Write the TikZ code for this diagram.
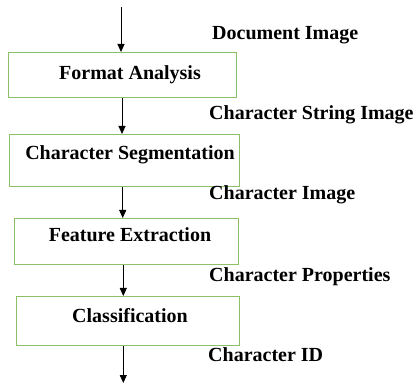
\documentclass[tikz,border=0pt]{standalone}
\usepackage{fontspec}
\setmainfont{Liberation Serif}
\usetikzlibrary{arrows.meta}
\definecolor{boxgreen}{RGB}{140,192,100}
\begin{document}
\begin{tikzpicture}[x=1pt,y=-1pt,
  stage/.style={draw=boxgreen,line width=1.3pt,inner sep=0pt,anchor=north west},
  lbl/.style={font=\fontsize{20}{24}\selectfont\bfseries,inner sep=0pt},
  flow/.style={-{Triangle[width=7pt,length=8pt]},line width=0.9pt}]
\useasboundingbox (0,0) rectangle (413,385);
% boxes
\node[stage,minimum width=228pt,minimum height=45pt] (b1) at (8,52) {};
\node[stage,minimum width=230pt,minimum height=52pt] (b2) at (9,134) {};
\node[stage,minimum width=224pt,minimum height=46pt] (b3) at (14,218) {};
\node[stage,minimum width=223pt,minimum height=49pt] (b4) at (16,296) {};
% box texts
\node[lbl,anchor=base] (t1) at (130,80) {Format Analysis};
\node[lbl,anchor=base] (t2) at (130,159.5) {Character Segmentation};
\node[lbl,anchor=base] (t3) at (130,241.5) {Feature Extraction};
\node[lbl,anchor=base] (t4) at (130,323) {Classification};
% side labels
\node[lbl,anchor=base west] (l0) at (212,39.5) {Document Image};
\node[lbl,anchor=base west] (l1) at (209,119.5) {Character String Image};
\node[lbl,anchor=base west] (l2) at (209,200) {Character Image};
\node[lbl,anchor=base west] (l3) at (209,282) {Character Properties};
\node[lbl,anchor=base west] (l4) at (208,362) {Character ID};
% connectors
\coordinate (in) at (121,7);
\coordinate (out) at (123.3,383);
\draw[flow] (in) -- (in |- b1.north);
\draw[flow] ([xshift=114pt]b1.south west) -- ([xshift=113pt]b2.north west);
\draw[flow] ([xshift=113.7pt]b2.south west) -- ([xshift=108.7pt]b3.north west);
\draw[flow] ([xshift=109.3pt]b3.south west) -- ([xshift=107.3pt]b4.north west);
\draw[flow] ([xshift=107.3pt]b4.south west) -- (out);
\end{tikzpicture}
\end{document}
